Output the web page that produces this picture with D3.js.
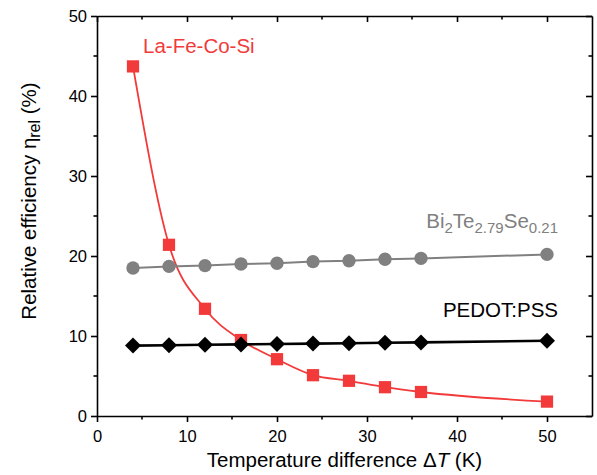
<!DOCTYPE html>
<html>
<head>
<meta charset="utf-8">
<script src="https://cdn.jsdelivr.net/npm/d3@7"></script>
<style>
  body { margin: 0; background: #fff; }
  svg text { font-family: Arial, "Liberation Sans", sans-serif; }
</style>
</head>
<body>
<svg id="canvas" width="597" height="475"></svg>
<script>
// temperature difference (K)
const dT = [4, 8, 12, 16, 20, 24, 28, 32, 36, 50];
const laFeCoSi = [43.7, 21.4, 13.4, 9.5, 7.1, 5.1, 4.4, 3.6, 3.0, 1.8];
const biTeSe = [18.5, 18.7, 18.8, 19.0, 19.1, 19.3, 19.4, 19.6, 19.7, 20.2];
const pedot = [8.8, 8.85, 8.9, 8.95, 9.0, 9.05, 9.1, 9.15, 9.2, 9.4];

const xTicks = [0, 10, 20, 30, 40, 50];
const yTicks = [0, 10, 20, 30, 40, 50];

const svg = d3.select("#canvas");
const mLeft = 97, mRight = 592, mTop = 16, mBottom = 416;

const x = d3.scaleLinear().domain([0, 55]).range([mLeft, mRight]);
const y = d3.scaleLinear().domain([0, 50]).range([mBottom, mTop]);

const minorX = d3.range(5, 55, 10);
const minorY = d3.range(5, 55, 10);

// bottom axis (ticks outward)
const gx = svg.append("g").attr("transform", "translate(0," + mBottom + ")");
gx.call(d3.axisBottom(x).tickValues(xTicks).tickSize(6).tickSizeOuter(0).tickPadding(8));
gx.selectAll("line.minor").data(minorX).join("line").attr("class", "minor")
  .attr("x1", d => x(d)).attr("x2", d => x(d)).attr("y1", 0).attr("y2", 3.5);

// left axis (ticks outward)
const gy = svg.append("g").attr("transform", "translate(" + mLeft + ",0)");
gy.call(d3.axisLeft(y).tickValues(yTicks).tickSize(6).tickSizeOuter(0).tickPadding(4));
gy.selectAll("line.minor").data(minorY).join("line").attr("class", "minor")
  .attr("y1", d => y(d)).attr("y2", d => y(d)).attr("x1", 0).attr("x2", -3.5);

// top & right (ticks inward, no labels)
const gt = svg.append("g").attr("transform", "translate(0," + mTop + ")");
gt.call(d3.axisTop(x).tickValues(xTicks).tickSize(-6).tickSizeOuter(0).tickFormat(""));
gt.selectAll("line.minor").data(minorX).join("line").attr("class", "minor")
  .attr("x1", d => x(d)).attr("x2", d => x(d)).attr("y1", 0).attr("y2", 3.5);

const gr = svg.append("g").attr("transform", "translate(" + mRight + ",0)");
gr.call(d3.axisRight(y).tickValues(yTicks).tickSize(-6).tickSizeOuter(0).tickFormat(""));
gr.selectAll("line.minor").data(minorY).join("line").attr("class", "minor")
  .attr("y1", d => y(d)).attr("y2", d => y(d)).attr("x1", 0).attr("x2", -3.5);

svg.selectAll(".domain").attr("stroke", "#000").attr("stroke-width", 1.6);
svg.selectAll(".tick line, line.minor").attr("stroke", "#000").attr("stroke-width", 1.6);
svg.selectAll(".tick text").attr("font-size", 16.5).attr("fill", "#000");

// axis titles
svg.append("text").attr("x", (mLeft + mRight) / 2).attr("y", 467)
  .attr("text-anchor", "middle").attr("font-size", 20.5)
  .html('Temperature difference \u0394<tspan font-style="italic">T</tspan> (K)');

svg.append("text")
  .attr("transform", "translate(36,201) rotate(-90)")
  .attr("text-anchor", "middle").attr("font-size", 20.5)
  .html('Relative efficiency \u03b7<tspan baseline-shift="-4" font-size="16">rel</tspan> (%)');

// series
const series = [
  {name: "la", vals: laFeCoSi, color: "#f23a3a", width: 1.8, shape: d3.symbolSquare, size: 150},
  {name: "bi", vals: biTeSe, color: "#808080", width: 2, shape: d3.symbolCircle, size: 140},
  {name: "pe", vals: pedot, color: "#000000", width: 2.6, shape: null, size: 0}
];

series.forEach(s => {
  const pts = dT.map((t, i) => [t, s.vals[i]]);
  const line = d3.line().x(d => x(d[0])).y(d => y(d[1]));
  if (s.name === "la") line.curve(d3.curveMonotoneX);
  svg.append("path").datum(pts).attr("d", line)
    .attr("fill", "none").attr("stroke", s.color).attr("stroke-width", s.width);
  const g = svg.append("g");
  const mark = s.shape ? d3.symbol().type(s.shape).size(s.size)() : "M0,-8L8,0L0,8L-8,0Z";
  g.selectAll("path").data(pts).join("path")
    .attr("d", mark)
    .attr("transform", d => "translate(" + x(d[0]) + "," + y(d[1]) + ")")
    .attr("fill", s.color);
});

// series labels
svg.append("text").attr("x", 143).attr("y", 53).attr("font-size", 20.5)
  .attr("fill", "#f23a3a").text("La-Fe-Co-Si");

svg.append("text").attr("x", 558).attr("y", 317).attr("font-size", 20.5)
  .attr("text-anchor", "end").attr("fill", "#000").text("PEDOT:PSS");

svg.append("text").attr("x", 558).attr("y", 228).attr("font-size", 20.5)
  .attr("text-anchor", "end").attr("fill", "#808080")
  .html('Bi<tspan baseline-shift="-5" font-size="15">2</tspan>Te<tspan baseline-shift="-5" font-size="15">2.79</tspan>Se<tspan baseline-shift="-5" font-size="15">0.21</tspan>');
</script>
</body>
</html>
